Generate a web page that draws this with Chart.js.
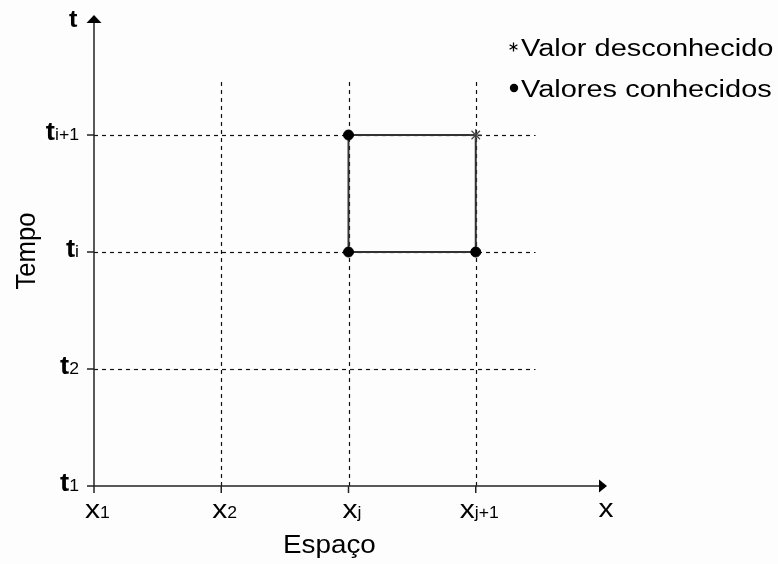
<!DOCTYPE html>
<html>
<head>
<meta charset="utf-8">
<script src="https://cdn.jsdelivr.net/npm/chart.js@4/dist/chart.umd.min.js"></script>
<style>
  html, body { margin: 0; padding: 0; background: #fdfdfd; }
  canvas { display: block; }
</style>
</head>
<body>
<canvas id="grid" width="778" height="564"></canvas>
<script>
// Mesh positions (space x, time t)
const xTickValues = [1, 2, 3, 4];
const xTickLabels = [['x', '1'], ['x', '2'], ['x', 'j'], ['x', 'j+1']];
const yTickValues = [1, 2, 3, 4];
const yTickLabels = [['t', '1'], ['t', '2'], ['t', 'i'], ['t', 'i+1']];

// Cell x_j..x_j+1, t_i..t_i+1
const cellX = [3, 4, 4, 3, 3];
const cellY = [3, 3, 4, 4, 3];
const knownX = [3, 3, 4];
const knownY = [4, 3, 3];
const unknownX = [4];
const unknownY = [4];

const legendLabels = ['Valor desconhecido', 'Valores conhecidos'];
const axisTitles = { x: 'Espaço', y: 'Tempo', xEnd: 'x', yEnd: 't' };

const gridEnd = 4.47;   // where the dashed lines stop
const INK = '#222';

const pts = (xs, ys) => xs.map((x, i) => ({ x, y: ys[i] }));

// text with horizontal stretch (the original glyphs are wide)
function textW(ctx, str, font, sx) {
  ctx.save();
  ctx.font = font;
  const w = ctx.measureText(str).width * sx;
  ctx.restore();
  return w;
}
function drawText(ctx, str, x, y, font, sx) {
  ctx.save();
  ctx.translate(x, y);
  ctx.scale(sx, 1);
  ctx.font = font;
  ctx.fillStyle = '#000';
  ctx.textAlign = 'left';
  ctx.textBaseline = 'alphabetic';
  ctx.fillText(str, 0, 0);
  ctx.restore();
}
function line(ctx, x1, y1, x2, y2) {
  ctx.beginPath();
  ctx.moveTo(x1, y1);
  ctx.lineTo(x2, y2);
  ctx.stroke();
}
function asterisk(ctx, cx, cy, r) {
  for (let k = 0; k < 3; k++) {
    const a = Math.PI / 2 + k * Math.PI / 3;
    line(ctx, cx - r * Math.cos(a), cy - r * Math.sin(a), cx + r * Math.cos(a), cy + r * Math.sin(a));
  }
}

const X_MAIN = '25px "Liberation Sans", Arial, sans-serif';
const X_SUB = '16px "Liberation Sans", Arial, sans-serif';
const T_MAIN = 'bold 25px "Liberation Sans", Arial, sans-serif';

const meshPlugin = {
  id: 'mesh',
  beforeDatasetsDraw(chart) {
    const { ctx, scales: { x, y } } = chart;
    const x0 = x.getPixelForValue(1), y0 = y.getPixelForValue(1);
    ctx.save();

    // dashed mesh
    ctx.strokeStyle = '#111';
    ctx.lineWidth = 1.2;
    ctx.setLineDash([4, 4]);
    xTickValues.slice(1).forEach(v => {
      const px = Math.round(x.getPixelForValue(v)) + 0.5;
      line(ctx, px, y0, px, y.getPixelForValue(gridEnd));
    });
    yTickValues.slice(1).forEach(v => {
      const py = Math.round(y.getPixelForValue(v)) + 0.5;
      line(ctx, x0, py, x.getPixelForValue(gridEnd), py);
    });
    ctx.setLineDash([]);

    // tick stubs
    ctx.strokeStyle = INK;
    ctx.lineWidth = 1.5;
    xTickValues.forEach(v => {
      const px = x.getPixelForValue(v);
      line(ctx, px, y0, px, y0 + 7);
    });
    yTickValues.forEach(v => {
      const py = y.getPixelForValue(v);
      line(ctx, x0 - 7, py, x0, py);
    });

    // axes with arrows
    const top = chart.chartArea.top - 3;
    const right = chart.chartArea.right + 4;
    line(ctx, x0, y0, x0, top + 8);
    line(ctx, x0, y0, right - 8, y0);
    ctx.fillStyle = '#000';
    ctx.beginPath();
    ctx.moveTo(x0, top);
    ctx.lineTo(x0 + 7.5, top + 8);
    ctx.lineTo(x0 - 7.5, top + 8);
    ctx.closePath();
    ctx.fill();
    ctx.beginPath();
    ctx.moveTo(right, y0);
    ctx.lineTo(right - 8, y0 - 6.5);
    ctx.lineTo(right - 8, y0 + 6.5);
    ctx.closePath();
    ctx.fill();
    ctx.restore();
  },
  afterDraw(chart) {
    const { ctx, scales: { x, y } } = chart;
    const x0 = x.getPixelForValue(1), y0 = y.getPixelForValue(1);

    // x tick labels: whole label centred just right of the tick
    xTickValues.forEach((v, i) => {
      const [m, s] = xTickLabels[i];
      const wm = textW(ctx, m, X_MAIN, 1.2), ws = textW(ctx, s, X_SUB, 1.1);
      const left = x.getPixelForValue(v) + 3.5 - (wm + ws) / 2;
      drawText(ctx, m, left, y0 + 32, X_MAIN, 1.2);
      drawText(ctx, s, left + wm, y0 + 32, X_SUB, 1.1);
    });

    // t tick labels, right aligned
    yTickValues.forEach((v, i) => {
      const [m, s] = yTickLabels[i];
      const wm = textW(ctx, m, T_MAIN, 1.1), ws = textW(ctx, s, X_SUB, 1.1);
      const left = x0 - 15 - (wm + ws);
      const base = y.getPixelForValue(v) + 5;
      drawText(ctx, m, left, base, T_MAIN, 1.1);
      drawText(ctx, s, left + wm, base, X_SUB, 1.1);
    });

    // axis ends
    const xe = textW(ctx, axisTitles.xEnd, X_MAIN, 1.2);
    drawText(ctx, axisTitles.xEnd, chart.chartArea.right + 3 - xe / 2, y0 + 31, X_MAIN, 1.2);
    drawText(ctx, axisTitles.yEnd, x0 - 25, 27, 'bold 23px "Liberation Sans", Arial, sans-serif', 1.1);

    // axis titles
    const tf = '26px "Liberation Sans", Arial, sans-serif';
    drawText(ctx, axisTitles.x, 283, 553, tf, 1.07);
    const yf = '27px "Liberation Sans", Arial, sans-serif';
    const wt = textW(ctx, axisTitles.y, yf, 0.95);
    ctx.save();
    ctx.translate(35, 251 + wt / 2);
    ctx.rotate(-Math.PI / 2);
    drawText(ctx, axisTitles.y, 0, 0, yf, 0.95);
    ctx.restore();

    // legend
    const lf = '23px "Liberation Sans", Arial, sans-serif';
    ctx.save();
    ctx.strokeStyle = '#000';
    ctx.lineWidth = 1.3;
    asterisk(ctx, 513.5, 47, 4.5);
    ctx.fillStyle = '#000';
    ctx.beginPath();
    ctx.arc(514, 88, 4.2, 0, Math.PI * 2);
    ctx.fill();
    ctx.restore();
    drawText(ctx, legendLabels[0], 521, 56, lf, 1.26);
    drawText(ctx, legendLabels[1], 521, 97, lf, 1.26);
  }
};

new Chart(document.getElementById('grid'), {
  type: 'scatter',
  data: {
    datasets: [
      {
        data: pts(cellX, cellY),
        showLine: true,
        borderColor: '#333',
        borderWidth: 2,
        pointRadius: 0,
        tension: 0,
        clip: false,
        order: 3,
      },
      {
        data: pts(knownX, knownY),
        pointRadius: 5,
        pointBackgroundColor: '#000',
        pointBorderColor: '#000',
        clip: false,
        order: 1,
      },
      {
        data: pts(unknownX, unknownY),
        pointStyle: 'star',
        pointRadius: 6,
        pointBorderColor: '#444',
        pointBorderWidth: 1.2,
        clip: false,
        order: 2,
      },
    ],
  },
  options: {
    responsive: false,
    animation: false,
    devicePixelRatio: 1,
    layout: { padding: { left: 94, right: 175, top: 18, bottom: 78 } },
    scales: {
      x: { type: 'linear', min: 1, max: 5, display: false },
      y: { type: 'linear', min: 1, max: 5, display: false },
    },
    plugins: {
      legend: { display: false },
      tooltip: { enabled: false },
    },
  },
  plugins: [meshPlugin],
});
</script>
</body>
</html>
